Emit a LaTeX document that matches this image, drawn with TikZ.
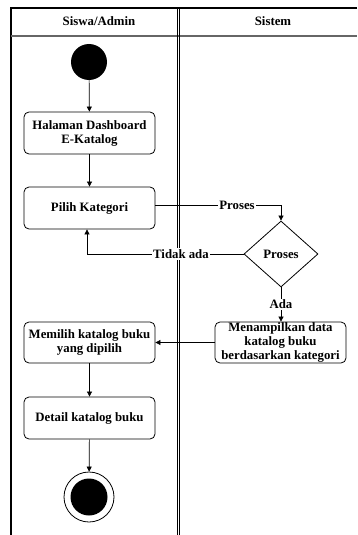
\documentclass[tikz,border=0pt]{standalone}
\usepackage{fontspec}
\setmainfont{Liberation Serif}
\usetikzlibrary{arrows.meta,shapes.geometric}
\begin{document}
\begin{tikzpicture}[x=1pt,y=-1pt,
  font=\fontsize{12.8}{14}\selectfont\bfseries,
  act/.style={draw, rounded corners=5pt, minimum width=131pt, line width=0.8pt, align=center, inner sep=0pt},
  flow/.style={draw, line width=0.7pt, -{Triangle[length=5pt,width=5pt]}},
  lbl/.style={fill=white, inner sep=1pt}
]
\useasboundingbox (0,0) rectangle (357,535);
% swimlane frame
\draw[line width=2pt] (357,8) -- (11,8) -- (11,535);
\draw[line width=1.3pt, black!60] (11,36) -- (357,36);
\draw[line width=0.8pt] (177,8) -- (177,535);
\draw[line width=0.8pt] (179.5,8) -- (179.5,535);
\node (h1) at (99,21) {Siswa/Admin};
\node (h2) at (273,21) {Sistem};
% nodes
\node[circle, fill=black, minimum size=36pt, inner sep=0pt] (start) at (89,62) {};
\node[act, minimum height=42pt] (dash) at (89.5,133) {Halaman Dashboard\\E-Katalog};
\node[act, minimum height=42pt] (pilih) at (89.5,208) {Pilih Kategori};
\node[diamond, draw, line width=0.8pt, minimum width=74pt, minimum height=66pt, inner sep=0pt] (dec) at (281,254) {Proses};
\node[act, minimum height=41pt] (tampil) at (280.5,342.5) {Menampilkan data\\katalog buku\\berdasarkan kategori};
\node[act, minimum height=41pt] (memilih) at (89.5,342.5) {Memilih katalog buku\\yang dipilih};
\node[act, minimum height=42pt] (detail) at (89.5,418) {Detail katalog buku};
\node[circle, draw, line width=0.8pt, minimum size=50pt, inner sep=0pt] (end) at (89,497) {};
\node[circle, fill=black, minimum size=37pt, inner sep=0pt] (endin) at (end) {};
\coordinate (c1) at (281,205);
\coordinate (c2) at (87,254);
% connectors
\draw[flow] (start) -- (dash);
\draw[flow] (dash) -- (pilih);
\draw[flow] (pilih.east |- c1) -- node[lbl, pos=0.65] {Proses} (c1) -- (dec.north);
\draw[flow] (dec.west) -- node[lbl, pos=0.4] {Tidak ada} (c2) -- (c2 |- pilih.south);
\draw[flow] (dec.south) -- node[lbl, pos=0.5] {Ada} (tampil.north -| dec.south);
\draw[flow] (tampil.west) -- (memilih.east);
\draw[flow] (memilih) -- (detail);
\draw[flow] (detail) -- (end);
\end{tikzpicture}
\end{document}
